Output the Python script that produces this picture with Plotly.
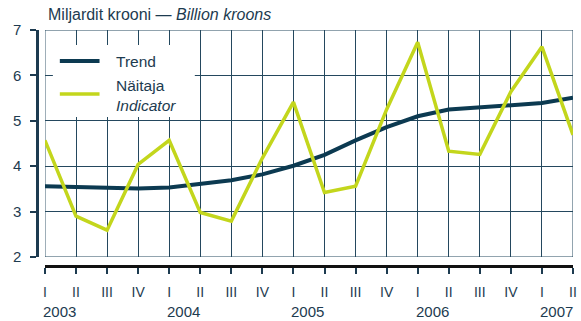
import plotly.graph_objects as go

# Quarterly series, 2003 Q1 .. 2007 Q2
quarter_labels = ["I", "II", "III", "IV"] * 4 + ["I", "II"]
years = ["2003", "2004", "2005", "2006", "2007"]
indicator = [4.57, 2.90, 2.59, 4.04, 4.57, 2.98, 2.79, 4.18, 5.41, 3.42,
             3.56, 5.25, 6.73, 4.33, 4.26, 5.64, 6.63, 4.69]
trend = [3.56, 3.55, 3.52, 3.51, 3.53, 3.60, 3.69, 3.82, 4.01, 4.25,
         4.57, 4.86, 5.10, 5.25, 5.30, 5.33, 5.39, 5.51]
y_ticks = [2, 3, 4, 5, 6, 7]

W, H = 581, 321
ML, MR, MT, MB = 37, 4, 30, 55
PW, PH = W - ML - MR, H - MT - MB

TEXT = "#1d3b50"
GRID = "#24485e"
TREND_C = "#0c3a51"
IND_C = "#c3d61c"
FONT = "Liberation Sans, Arial, sans-serif"


def px_x(p):
    return (p - ML) / PW


def px_y(p):
    return (H - MB - p) / PH


x = list(range(len(indicator)))

fig = go.Figure()
fig.add_trace(go.Scatter(x=x, y=trend, mode="lines", name="Trend",
                         line=dict(color=TREND_C, width=4), showlegend=False))
fig.add_trace(go.Scatter(x=x, y=indicator, mode="lines", name="Näitaja",
                         line=dict(color=IND_C, width=3.5), showlegend=False))

fig.update_layout(
    width=W, height=H,
    margin=dict(l=ML, r=MR, t=MT, b=MB),
    paper_bgcolor="white", plot_bgcolor="white",
    font=dict(family=FONT, color=TEXT, size=15),
    xaxis=dict(
        domain=[px_x(45), 1], range=[0, len(x) - 1],
        anchor="free", position=0,
        tickmode="array", tickvals=x, ticktext=quarter_labels,
        showgrid=True, gridcolor=GRID, gridwidth=1,
        showline=True, linecolor="#111111", linewidth=3,
        ticks="outside", ticklen=6, tickcolor=TEXT, tickwidth=1.5,
        ticklabelstandoff=6,
        tickfont=dict(size=14, color=TEXT),
        zeroline=False, fixedrange=True,
    ),
    yaxis=dict(
        domain=[px_y(257), 1], range=[2, 7],
        anchor="free", position=0,
        tickmode="array", tickvals=y_ticks,
        showgrid=True, gridcolor=GRID, gridwidth=1,
        showline=True, linecolor=TEXT, linewidth=2.5,
        ticks="outside", ticklen=6, tickcolor=TEXT, tickwidth=1.5,
        ticklabelstandoff=6,
        tickfont=dict(size=15, color=TEXT),
        zeroline=False, fixedrange=True,
    ),
)

# Frame around the plotting area
fig.add_shape(type="rect", xref="x", yref="y", x0=0, x1=len(x) - 1, y0=2, y1=7,
              line=dict(color=GRID, width=1), layer="below")

# Year labels under the first quarter of each year
for i, yr in enumerate(years):
    fig.add_annotation(x=i * 4, y=px_y(311), xref="x", yref="paper",
                       text=yr, showarrow=False, xanchor="left", yanchor="middle",
                       xshift=-4, font=dict(size=15, color=TEXT))

# Unit title
fig.add_annotation(x=px_x(46), y=px_y(15), xref="paper", yref="paper",
                   text="Miljardit krooni — <i>Billion kroons</i>",
                   showarrow=False, xanchor="left", yanchor="middle",
                   font=dict(size=16, color=TEXT))

# Legend panel
fig.add_shape(type="rect", xref="paper", yref="paper",
              x0=px_x(53), x1=px_x(196), y0=px_y(117), y1=px_y(45),
              fillcolor="white", line=dict(width=0), layer="above")
fig.add_shape(type="line", xref="paper", yref="paper",
              x0=px_x(60), x1=px_x(100), y0=px_y(61), y1=px_y(61),
              line=dict(color=TREND_C, width=4), layer="above")
fig.add_shape(type="line", xref="paper", yref="paper",
              x0=px_x(60), x1=px_x(100), y0=px_y(94), y1=px_y(94),
              line=dict(color=IND_C, width=3.5), layer="above")
fig.add_annotation(x=px_x(115), y=px_y(61), xref="paper", yref="paper",
                   text="Trend", showarrow=False, xanchor="left", yanchor="middle",
                   font=dict(size=15.5, color=TEXT))
fig.add_annotation(x=px_x(115), y=px_y(85), xref="paper", yref="paper",
                   text="Näitaja", showarrow=False, xanchor="left", yanchor="middle",
                   font=dict(size=15.5, color=TEXT))
fig.add_annotation(x=px_x(115), y=px_y(105), xref="paper", yref="paper",
                   text="<i>Indicator</i>", showarrow=False, xanchor="left",
                   yanchor="middle", font=dict(size=15.5, color=TEXT))

fig.write_html("out.html", config={"displayModeBar": False})
